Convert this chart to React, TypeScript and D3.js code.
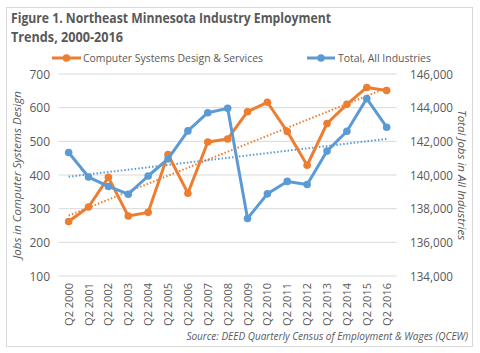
import React from "react";
import * as d3 from "d3";

const years = ["2000","2001","2002","2003","2004","2005","2006","2007","2008","2009","2010","2011","2012","2013","2014","2015","2016"];
const categories = years.map((y) => `Q2 ${y}`);
const computerJobs = [262, 305, 393, 278, 289, 461, 346, 498, 507, 588, 616, 529, 429, 553, 610, 660, 651];
const totalJobs = [141340, 139880, 139320, 138860, 139940, 140960, 142620, 143700, 143960, 137420, 138880, 139620, 139440, 141420, 142600, 144540, 142840];
const leftTicks = [100, 200, 300, 400, 500, 600, 700];
const rightTicks = [134000, 136000, 138000, 140000, 142000, 144000, 146000];

const ORANGE = "#ED7D31";
const BLUE = "#5B9BD5";
const TEXT = "#595959";
const FONT = "'Open Sans', 'Liberation Sans', sans-serif";

function linReg(vals: number[]) {
  const n = vals.length;
  const xs = vals.map((_, i) => i);
  const mx = d3.mean(xs)!;
  const my = d3.mean(vals)!;
  let num = 0, den = 0;
  xs.forEach((x, i) => { num += (x - mx) * (vals[i] - my); den += (x - mx) ** 2; });
  const b = num / den;
  const a = my - b * mx;
  return [a, a + b * (n - 1)];
}

export default function App() {
  const W = 480, H = 353;
  const x = d3.scaleBand().domain(categories).range([58.7, 396.6]);
  const cx = (c: string) => x(c)! + x.bandwidth() / 2;
  const yL = d3.scaleLinear().domain([100, 700]).range([276, 74]);
  const yR = d3.scaleLinear().domain([134000, 146000]).range([276, 74]);
  const lineL = d3.line<number>().x((_, i) => cx(categories[i])).y((d) => yL(d));
  const lineR = d3.line<number>().x((_, i) => cx(categories[i])).y((d) => yR(d));
  const trL = linReg(computerJobs);
  const trR = linReg(totalJobs);
  const first = cx(categories[0]);
  const last = cx(categories[categories.length - 1]);

  return (
    <svg width={W} height={H} style={{ position: "absolute", left: 0, top: 0 }} fontFamily={FONT}>
      <rect x={0} y={0} width={W} height={H} fill="#fff" />
      <rect x={6.5} y={7.5} width={466} height={339} fill="#fff" stroke="#D9D9D9" />
      <text x={11} y={23} fontSize={14} fontWeight="bold" fill={TEXT} textLength={320} lengthAdjust="spacingAndGlyphs">Figure 1. Northeast Minnesota Industry Employment</text>
      <text x={11} y={42} fontSize={14} fontWeight="bold" fill={TEXT} textLength={112} lengthAdjust="spacingAndGlyphs">Trends, 2000-2016</text>

      {/* legend */}
      <line x1={52} x2={81} y1={58} y2={58} stroke={ORANGE} strokeWidth={3} />
      <circle cx={66.5} cy={58} r={3.8} fill={ORANGE} />
      <text x={83} y={62} fontSize={11} fill={TEXT} textLength={180} lengthAdjust="spacingAndGlyphs">Computer Systems Design &amp; Services</text>
      <line x1={307} x2={335} y1={58} y2={58} stroke={BLUE} strokeWidth={3} />
      <circle cx={321} cy={58} r={3.8} fill={BLUE} />
      <text x={338} y={62} fontSize={11} fill={TEXT} textLength={93} lengthAdjust="spacingAndGlyphs">Total, All Industries</text>

      {/* grid */}
      {leftTicks.map((t) => (
        <line key={t} x1={58.7} x2={396.6} y1={yL(t)} y2={yL(t)} stroke="#D9D9D9" strokeWidth={1} />
      ))}
      {leftTicks.map((t) => (
        <text key={"l" + t} x={50} y={yL(t) + 4.5} fontSize={12} fill={TEXT} textAnchor="end">{t}</text>
      ))}
      {rightTicks.map((t) => (
        <text key={"r" + t} x={410} y={yR(t) + 4.5} fontSize={12} fill={TEXT} textLength={43} lengthAdjust="spacingAndGlyphs">{d3.format(",")(t)}</text>
      ))}
      <text transform={`translate(21,175) rotate(-90)`} fontSize={11.5} fontStyle="italic" fill={TEXT} textAnchor="middle">Jobs in Computer Systems Design</text>
      <text transform={`translate(458,175) rotate(90)`} fontSize={11.5} fontStyle="italic" fill={TEXT} textAnchor="middle">Total Jobs in All Industries</text>

      {categories.map((c) => (
        <text key={c} transform={`translate(${cx(c) + 4},283) rotate(-90)`} fontSize={11} fill={TEXT} textAnchor="end">{c}</text>
      ))}

      {/* trendlines */}
      <line x1={first} x2={last} y1={yL(trL[0])} y2={yL(trL[1])} stroke={ORANGE} strokeWidth={2} strokeDasharray="1.5,2" />
      <line x1={first} x2={last} y1={yR(trR[0])} y2={yR(trR[1])} stroke={BLUE} strokeWidth={2} strokeDasharray="1.5,2" />

      {/* series */}
      <path d={lineL(computerJobs)!} fill="none" stroke={ORANGE} strokeWidth={3} strokeLinejoin="round" />
      {computerJobs.map((v, i) => (
        <circle key={"o" + i} cx={cx(categories[i])} cy={yL(v)} r={3.8} fill={ORANGE} />
      ))}
      <path d={lineR(totalJobs)!} fill="none" stroke={BLUE} strokeWidth={3} strokeLinejoin="round" />
      {totalJobs.map((v, i) => (
        <circle key={"b" + i} cx={cx(categories[i])} cy={yR(v)} r={3.8} fill={BLUE} />
      ))}

      <text x={468} y={340} fontSize={10} fontStyle="italic" fill={TEXT} textAnchor="end">Source: DEED Quarterly Census of Employment &amp; Wages (QCEW)</text>
    </svg>
  );
}
